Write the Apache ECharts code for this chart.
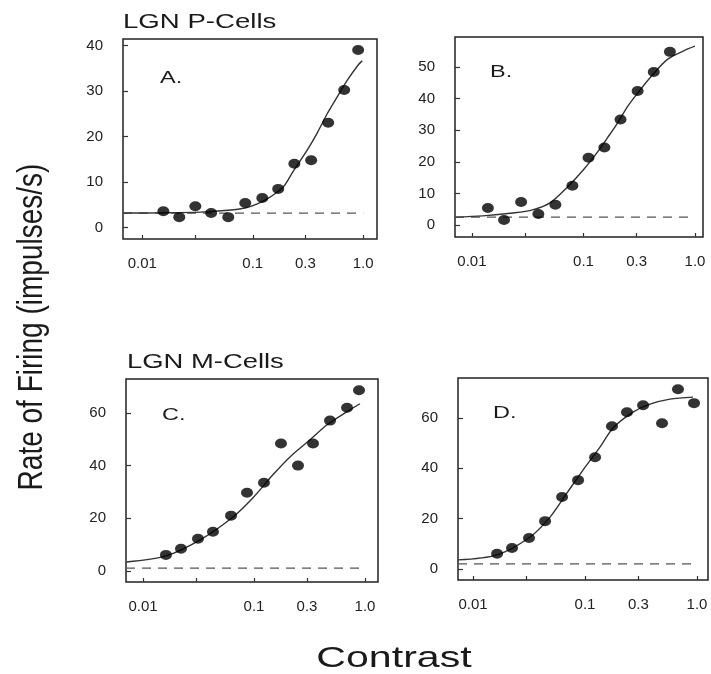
<!DOCTYPE html>
<html>
<head>
<meta charset="utf-8">
<script src="https://cdn.jsdelivr.net/npm/echarts@6/dist/echarts.min.js"></script>
<style>
html,body{margin:0;padding:0;background:#fff;}
#chart{width:711px;height:674px;}
</style>
</head>
<body>
<div id="chart"></div>
<script>
// ---- tick labels ----
const xTickValues = [0.01, 0.1, 0.3, 1.0];
const xTickLabels = ['0.01', '0.1', '0.3', '1.0'];
const xMinorTicks = [0.01, 0.03, 0.1, 0.3, 1.0];
const yTicksA = [0, 10, 20, 30, 40];
const yTicksB = [0, 10, 20, 30, 40, 50];
const yTicksC = [0, 20, 40, 60];
const yTicksD = [0, 20, 40, 60];

// ---- Panel A (LGN P-Cells) ----
const contrastA = [0.0155, 0.0216, 0.0302, 0.042, 0.06, 0.0855, 0.122, 0.170, 0.238, 0.338, 0.482, 0.673, 0.90];
const rateA     = [3.6, 2.3, 4.7, 3.2, 2.3, 5.4, 6.5, 8.5, 14.0, 14.8, 23.0, 30.2, 39.0];
const fitContrastA = [0.0067, 0.015, 0.0335, 0.06, 0.0855, 0.11, 0.135, 0.16, 0.189, 0.233, 0.311, 0.384, 0.472, 0.582, 0.716, 0.90, 0.98];
const fitRateA     = [3.2, 3.25, 3.4, 3.8, 4.3, 5.2, 6.3, 7.5, 8.9, 12.4, 17.0, 20.8, 25.0, 28.7, 32.3, 35.7, 36.6];
const baselineA = 3.2;

// ---- Panel B (LGN P-Cells) ----
const contrastB = [0.0139, 0.0194, 0.0276, 0.0394, 0.056, 0.0796, 0.111, 0.154, 0.215, 0.306, 0.427, 0.596];
const rateB     = [5.4, 1.6, 7.3, 3.5, 6.4, 12.4, 21.3, 24.5, 33.4, 42.4, 48.4, 54.8];
const fitContrastB = [0.0071, 0.0125, 0.0232, 0.035, 0.05, 0.0708, 0.1, 0.135, 0.165, 0.204, 0.25, 0.31, 0.406, 0.57, 0.8, 1.0];
const fitRateB     = [2.5, 2.9, 3.8, 4.8, 7.0, 11.8, 17.5, 23.3, 27.7, 32.5, 37.6, 42.0, 47.1, 52.5, 55.2, 56.6];
const baselineB = 2.5;

// ---- Panel C (LGN M-Cells) ----
const contrastC = [0.0161, 0.022, 0.0313, 0.0427, 0.0621, 0.0865, 0.123, 0.175, 0.249, 0.340, 0.484, 0.689, 0.883];
const rateC     = [6.1, 8.4, 12.2, 14.9, 21.0, 29.7, 33.5, 48.4, 40.0, 48.4, 57.1, 62.0, 68.6];
const fitContrastC = [0.0071, 0.0161, 0.0327, 0.0647, 0.098, 0.148, 0.211, 0.32, 0.455, 0.689, 0.90];
const fitRateC     = [3.4, 5.7, 11.8, 20.5, 27.8, 36.5, 43.3, 49.8, 55.5, 60.5, 63.5];
const baselineC = 1.1;

// ---- Panel D (LGN M-Cells) ----
const contrastD = [0.0164, 0.0223, 0.0316, 0.044, 0.0624, 0.0867, 0.123, 0.174, 0.237, 0.33, 0.487, 0.676, 0.94];
const rateD     = [6.0, 8.3, 12.3, 19.0, 28.6, 35.3, 44.4, 56.7, 62.3, 65.1, 57.9, 71.4, 65.9];
const fitContrastD = [0.0073, 0.0164, 0.0323, 0.0487, 0.069, 0.096, 0.136, 0.178, 0.268, 0.38, 0.574, 0.92];
const fitRateD     = [3.6, 5.6, 12.7, 20.6, 30.2, 39.3, 48.4, 56.0, 62.3, 65.5, 67.5, 68.3];
const baselineD = 2.0;

const lg = v => Math.log10(v);
const pairs = (xs, ys) => xs.map((x, i) => [lg(x), ys[i]]);

const FONT = '"Liberation Sans", Arial, sans-serif';

const panels = [
  {grid:{left:123, top:39, width:254, height:200}, x:[-2.175, 0.125], y:[-2.5, 41.4], yt:yTicksA,
   c:contrastA, r:rateA, fc:fitContrastA, fr:fitRateA, base:baselineA},
  {grid:{left:455, top:37, width:248, height:200}, x:[-2.152, 0.072], y:[-3.8, 59.5], yt:yTicksB,
   c:contrastB, r:rateB, fc:fitContrastB, fr:fitRateB, base:baselineB},
  {grid:{left:126, top:379, width:252, height:203}, x:[-2.153, 0.117], y:[-4.2, 72.9], yt:yTicksC,
   c:contrastC, r:rateC, fc:fitContrastC, fr:fitRateC, base:baselineC},
  {grid:{left:458, top:378, width:250, height:202}, x:[-2.134, 0.098], y:[-4.4, 75.9], yt:yTicksD,
   c:contrastD, r:rateD, fc:fitContrastD, fr:fitRateD, base:baselineD}
];

const grid = [], xAxis = [], yAxis = [], series = [];
panels.forEach((p, i) => {
  grid.push(Object.assign({show:true, borderColor:'#222', borderWidth:1.5, backgroundColor:'transparent'}, p.grid));
  xAxis.push({
    type:'value', gridIndex:i, min:p.x[0], max:p.x[1], position:'bottom',
    axisLine:{show:false, onZero:false}, splitLine:{show:false},
    axisTick:{show:true, inside:true, length:4, customValues:xMinorTicks.map(lg), lineStyle:{color:'#333', width:1.2}},
    axisLabel:{show:true, margin:17, color:'#222', fontSize:15, fontFamily:FONT,
      customValues:xTickValues.map(lg),
      formatter:function(v){
        let best = 0, d = 1e9;
        xTickValues.forEach((t, k) => { const dd = Math.abs(lg(t) - v); if (dd < d) { d = dd; best = k; } });
        return xTickLabels[best];
      }}
  });
  yAxis.push({
    type:'value', gridIndex:i, min:p.y[0], max:p.y[1], position:'left',
    axisLine:{show:false, onZero:false}, splitLine:{show:false},
    axisTick:{show:true, inside:true, length:5, customValues:p.yt, lineStyle:{color:'#333', width:1.2}},
    axisLabel:{show:true, margin:20, color:'#222', fontSize:15, fontFamily:FONT, customValues:p.yt}
  });
  series.push({
    type:'line', xAxisIndex:i, yAxisIndex:i, silent:true, symbol:'none',
    data:[[p.x[0], p.base], [lg(1.0), p.base]],
    lineStyle:{color:'#555', width:1.2, type:[9,7]}, z:1
  });
  series.push({
    type:'line', xAxisIndex:i, yAxisIndex:i, silent:true, symbol:'none',
    smooth:0.3,
    data:pairs(p.fc, p.fr),
    lineStyle:{color:'#333', width:1.4}, z:2
  });
  series.push({
    type:'scatter', xAxisIndex:i, yAxisIndex:i, silent:true,
    symbol:'circle', symbolSize:[12,10],
    data:pairs(p.c, p.r),
    itemStyle:{color:'#000'}, z:3
  });
});

const txt = (text, x, y, size, opts) => Object.assign({
  type:'text', x:x, y:y, silent:true,
  style:{text:text, fill:'#1a1a1a', font:size + 'px ' + FONT, textAlign:'left', textVerticalAlign:'middle'}
}, opts || {});

const graphic = [
  txt('LGN P-Cells', 123, 22, 20, {scaleX:1.38}),
  txt('LGN M-Cells', 127, 362, 20, {scaleX:1.37}),
  txt('A.', 160, 78, 17, {scaleX:1.38}),
  txt('B.', 490, 72, 17, {scaleX:1.38}),
  txt('C.', 162, 415, 17, {scaleX:1.38}),
  txt('D.', 493, 413, 17, {scaleX:1.38}),
  {type:'text', x:394, y:659, silent:true, scaleX:1.37,
   style:{text:'Contrast', fill:'#1a1a1a', font:'30px ' + FONT, textAlign:'center', textVerticalAlign:'middle'}},
  {type:'text', x:32, y:327, silent:true, rotation:Math.PI/2, scaleY:1.25,
   style:{text:'Rate of Firing (impulses/s)', fill:'#1a1a1a', font:'28px ' + FONT, textAlign:'center', textVerticalAlign:'middle'}}
];

const chart = echarts.init(document.getElementById('chart'), null, {renderer:'canvas'});
chart.setOption({
  backgroundColor:'#fff',
  animation:false,
  grid:grid, xAxis:xAxis, yAxis:yAxis, series:series, graphic:graphic
});
</script>
</body>
</html>
